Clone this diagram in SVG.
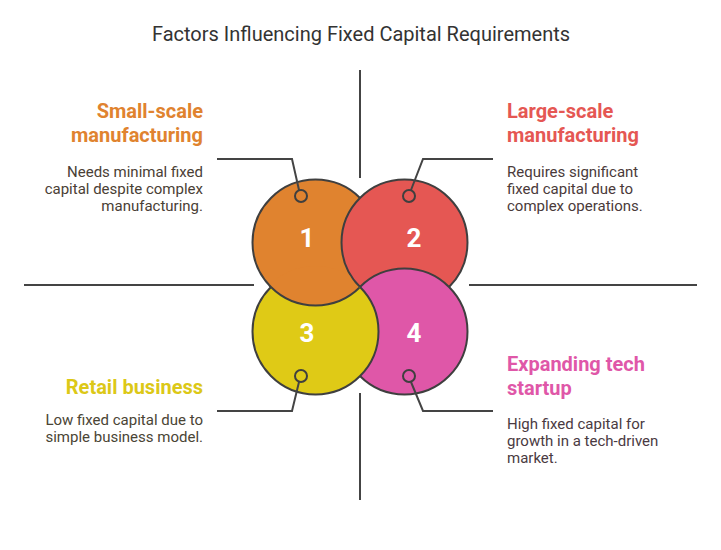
<svg xmlns="http://www.w3.org/2000/svg" width="721" height="550" viewBox="0 0 721 550">
<defs>
<style>
.ttl{font-family:Roboto,"Liberation Sans",sans-serif;font-size:20px;fill:#333333}
.hd{font-family:Roboto,"Liberation Sans",sans-serif;font-size:20px;font-weight:bold}
.bd{font-family:Roboto,"Liberation Sans",sans-serif;font-size:15px}
.num{font-family:Roboto,"Liberation Sans",sans-serif;font-size:26px;font-weight:bold;fill:#ffffff;text-anchor:middle}
.big{stroke:#3f3f3f;stroke-width:2}
.ln{stroke:#444444;stroke-width:2;fill:none}
.dot{fill:none;stroke:#3f3f3f;stroke-width:2}
</style>
<clipPath id="clipY"><circle cx="315.5" cy="331.5" r="65.5"/></clipPath>
<clipPath id="clipNotRed"><path clip-rule="evenodd" d="M0,0H721V550H0Z M340.5,242.5a64,64 0 1,0 128,0a64,64 0 1,0 -128,0Z"/></clipPath>
</defs>
<rect width="721" height="550" fill="#ffffff"/>
<text class="ttl" x="361" y="41" text-anchor="middle">Factors Influencing Fixed Capital Requirements</text>
<g id="dividers">
<line class="ln" x1="360" y1="70" x2="360" y2="178"/>
<line class="ln" x1="360" y1="393" x2="360" y2="500"/>
<line class="ln" x1="24" y1="285" x2="254" y2="285"/>
<line class="ln" x1="469" y1="285" x2="697" y2="285"/>
</g>
<g id="circles">
<circle id="c1" class="big" cx="315.5" cy="242.5" r="63" fill="#E0832F"/>
<circle id="c2" class="big" cx="404.5" cy="242.5" r="63" fill="#E55753"/>
<circle id="c4" class="big" cx="404.5" cy="331.5" r="63" fill="#DF57A8"/>
<circle id="c3" class="big" cx="315.5" cy="331.5" r="63" fill="#DFCA16"/>
<g clip-path="url(#clipY)">
<circle class="big" cx="315.5" cy="242.5" r="63" fill="#E0832F" clip-path="url(#clipNotRed)"/>
</g>
</g>
<g id="connectors">
<polyline class="ln" points="217,159 292,159 299,190"/>
<polyline class="ln" points="493,159 423,159 411,190"/>
<polyline class="ln" points="217,411 292,411 299,382"/>
<polyline class="ln" points="493,411 423,411 411,382"/>
</g>
<g id="node1">
<circle class="dot" cx="301" cy="196" r="6"/>
<text class="num" x="307" y="247">1</text>
<text class="hd" x="203" y="118" text-anchor="end" fill="#E0832F">Small-scale</text>
<text class="hd" x="203" y="142" text-anchor="end" fill="#E0832F">manufacturing</text>
<text class="bd" x="203" y="177" text-anchor="end" fill="#4a4035">Needs minimal fixed</text>
<text class="bd" x="203" y="194" text-anchor="end" fill="#4a4035">capital despite complex</text>
<text class="bd" x="203" y="211" text-anchor="end" fill="#4a4035">manufacturing.</text>
</g>
<g id="node2">
<circle class="dot" cx="409" cy="196" r="6"/>
<text class="num" x="414" y="247">2</text>
<text class="hd" x="507" y="118" fill="#E55753">Large-scale</text>
<text class="hd" x="507" y="142" fill="#E55753">manufacturing</text>
<text class="bd" x="507" y="177" fill="#4a3a3a">Requires significant</text>
<text class="bd" x="507" y="194" fill="#4a3a3a">fixed capital due to</text>
<text class="bd" x="507" y="211" fill="#4a3a3a">complex operations.</text>
</g>
<g id="node3">
<circle class="dot" cx="301" cy="376" r="6"/>
<text class="num" x="307" y="342">3</text>
<text class="hd" x="203" y="394" text-anchor="end" fill="#DCC817">Retail business</text>
<text class="bd" x="203" y="425" text-anchor="end" fill="#4a4535">Low fixed capital due to</text>
<text class="bd" x="203" y="442" text-anchor="end" fill="#4a4535">simple business model.</text>
</g>
<g id="node4">
<circle class="dot" cx="409" cy="376" r="6"/>
<text class="num" x="414" y="342">4</text>
<text class="hd" x="507" y="371" fill="#DF57A8">Expanding tech</text>
<text class="hd" x="507" y="395" fill="#DF57A8">startup</text>
<text class="bd" x="507" y="429" fill="#4a3a42">High fixed capital for</text>
<text class="bd" x="507" y="446" fill="#4a3a42">growth in a tech-driven</text>
<text class="bd" x="507" y="463" fill="#4a3a42">market.</text>
</g>
</svg>
